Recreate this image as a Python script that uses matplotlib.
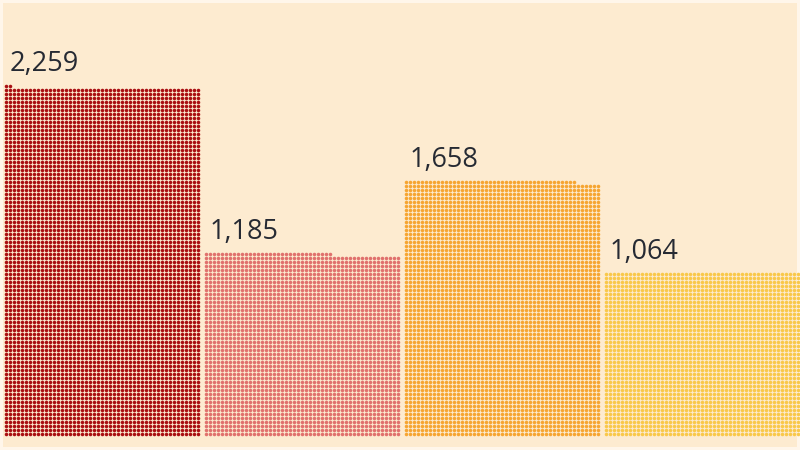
import numpy as np
import matplotlib.pyplot as plt

values = [2259, 1185, 1658, 1064]
labels = ['2,259', '1,185', '1,658', '1,064']
colors = ['#a90f12', '#e0716d', '#f6a532', '#f9c84a']

bg = '#fdebd0'
ncol = 49          # dots per row in each block
gap = 1            # empty columns between blocks
per_dot = 0.5297   # units per dot

fig = plt.figure(figsize=(8, 4.5), dpi=100, facecolor=bg)
fig.patch.set_edgecolor('#fff6ea')
fig.patch.set_linewidth(3)

# axes in dot units: one column / one row = 4 px
ax = fig.add_axes([0, 14 / 450, 1, 400 / 450])
ax.set_facecolor(bg)
ax.set_xlim(-1.5, 198.5)
ax.set_ylim(-0.5, 99.5)
ax.axis('off')

for i, v in enumerate(values):
    n = int(round(v / per_dot))
    idx = np.arange(n)
    xs = i * (ncol + gap) + idx % ncol
    ys = idx // ncol
    ax.scatter(xs, ys, s=6.5, c=colors[i], marker='o', linewidths=0)
    top = ys.max()
    ax.text(i * (ncol + gap) + 1.0, top + 5.5, labels[i], fontsize=19.5,
            family=['Open Sans', 'DejaVu Sans'], color='#262a33',
            ha='left', va='center')

plt.savefig('out.png', dpi=100, facecolor=bg)
